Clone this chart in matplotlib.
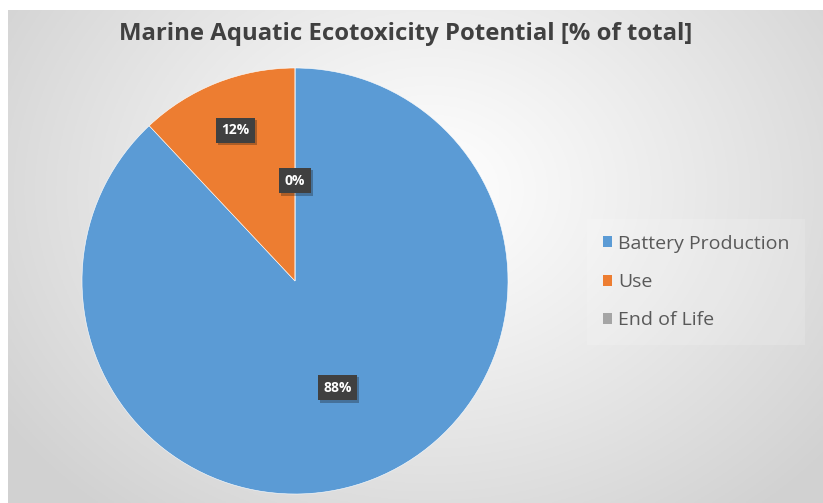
import numpy as np
import matplotlib
matplotlib.use("Agg")
import matplotlib.pyplot as plt
from matplotlib.patches import Patch
import matplotlib.patheffects as pe

plt.rcParams['font.family'] = ['Open Sans', 'DejaVu Sans']

# Data
categories = ["Battery Production", "Use", "End of Life"]
shares = [88, 12, 0]
colors = ["#5B9BD5", "#ED7D31", "#A5A5A5"]
title = "Marine Aquatic Ecotoxicity Potential [% of total]"

W, H = 823, 503
fig = plt.figure(figsize=(W / 100, H / 100), dpi=100, facecolor="white")

# Chart area with soft radial gradient background
bg = fig.add_axes([8 / W, 0, 1 - 8 / W, 1 - 10 / H])
bg.set_axis_off()
nx, ny = 400, 250
xs = np.linspace(8, W, nx)
ys = np.linspace(10, H, ny)
X, Y = np.meshgrid(xs, ys)
cx, cy, rx, ry = 430, 190, 520, 420
t = np.clip(np.sqrt(((X - cx) / rx) ** 2 + ((Y - cy) / ry) ** 2), 0, 1)
shade = 1.0 - 0.18 * t ** 1.1
img = np.dstack([shade, shade, shade])
bg.imshow(img, extent=[0, 1, 0, 1], aspect="auto", origin="upper")

# Pie axes
cxp, cyp, r = 295, 281, 213
ax = fig.add_axes([(cxp - r) / W, (H - cyp - r) / H, 2 * r / W, 2 * r / H])
ax.set_axis_off()
wedges, _ = ax.pie(shares, colors=colors, startangle=90, counterclock=False,
                   radius=1.0, wedgeprops=dict(edgecolor="white", linewidth=0.4))
ax.set_xlim(-1, 1)
ax.set_ylim(-1, 1)
ax.set_aspect("auto")

# Data labels in dark boxes
label_dist = [0.54, 0.76, 0.47]
total = sum(shares)
for w, v, d in zip(wedges, shares, label_dist):
    ang = np.deg2rad((w.theta1 + w.theta2) / 2)
    x, y = d * np.cos(ang), d * np.sin(ang)
    txt = ax.text(x, y, f"{round(100 * v / total)}%", ha="center", va="center",
                  color="white", fontsize=10, fontweight="bold",
                  bbox=dict(boxstyle="square,pad=0.4", fc="#404040", ec="none"))
    txt.get_bbox_patch().set_path_effects(
        [pe.SimplePatchShadow(offset=(1.5, -1.5), alpha=0.3), pe.Normal()])

fig.text(406 / W, 1 - 34 / H, title, ha="center", va="center",
         fontsize=17.2, fontweight="bold", color="#404040")

handles = [Patch(facecolor=c, edgecolor="none") for c in colors]
leg = fig.legend(handles, categories, loc="center left",
                 bbox_to_anchor=(593 / W, 1 - 282 / H), frameon=True,
                 fontsize=14, handlelength=0.5, handleheight=0.5,
                 handletextpad=0.3, labelspacing=1.05, borderpad=0.5,
                 borderaxespad=0, labelcolor="#595959")
leg.get_frame().set_facecolor("white")
leg.get_frame().set_alpha(0.15)
leg.get_frame().set_edgecolor("none")
leg.get_frame().set_boxstyle("square")

fig.savefig("out.png", dpi=100, facecolor="white")
